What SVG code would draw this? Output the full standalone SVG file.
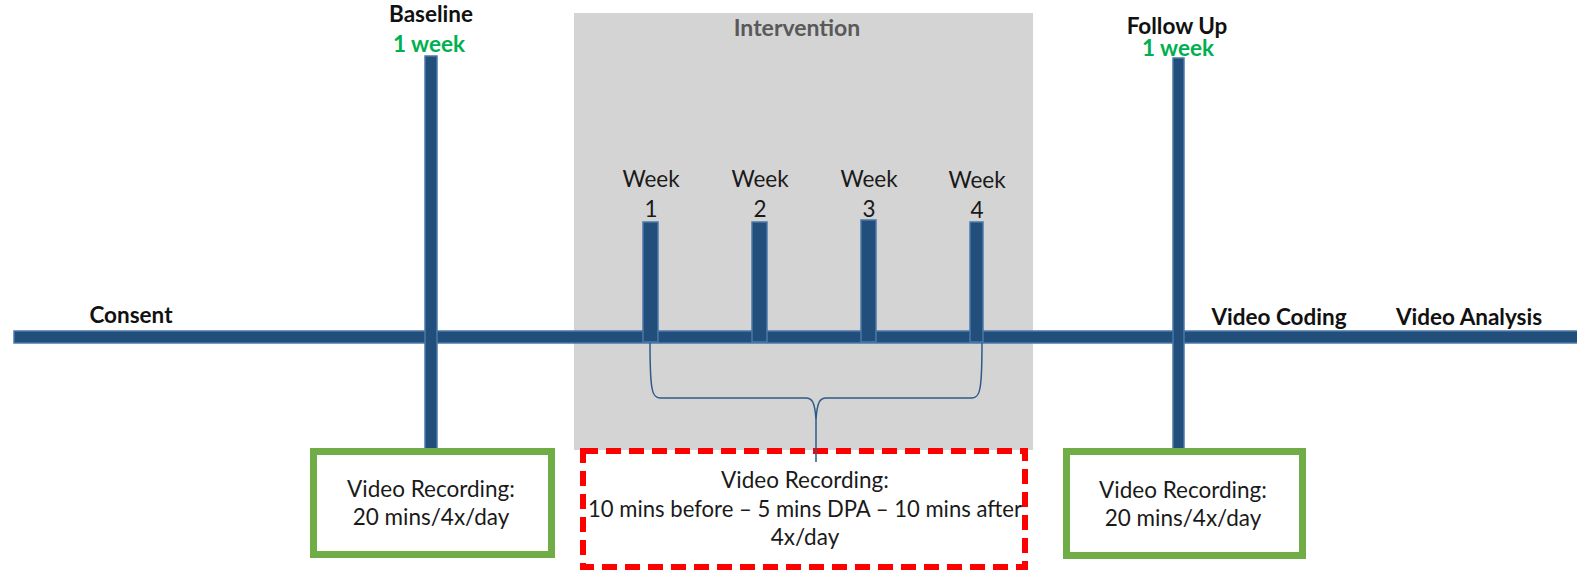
<svg xmlns="http://www.w3.org/2000/svg" width="1577" height="574" viewBox="0 0 1577 574">
<defs>
<style>
.bar{fill:#224e7b;stroke:#4a78a8;stroke-width:1.5}
.t{font-family:Lato,"Liberation Sans",sans-serif;font-size:22.5px;fill:#1a1a1a;text-anchor:middle}
.b{font-family:Lato,"Liberation Sans",sans-serif;font-size:22.5px;font-weight:bold;fill:#111;text-anchor:middle}
.g{fill:#00b050}
.gbox{fill:#fff;stroke:#70ad47;stroke-width:7}
.rbox{fill:#fff;stroke:#ff0000;stroke-width:6;stroke-dasharray:15 8}
.brace{fill:none;stroke:#2e5a88;stroke-width:1.5}
</style>
</defs>
<rect id="intervention-bg" x="574" y="13" width="459" height="437" fill="#d4d4d4"/>
<g id="intervention-label"><text class="b" x="797" y="36" style="fill:#595959;font-size:23px">Intervention</text></g>
<g id="timeline">
<rect class="bar" x="14" y="331" width="1570" height="12"/>
</g>
<g id="baseline">
<rect class="bar" x="425" y="56" width="12" height="393"/>
<text class="b" x="431" y="22">Baseline</text>
<text class="b g" x="429" y="52">1 week</text>
</g>
<g id="followup">
<rect class="bar" x="1173" y="58" width="11" height="392"/>
<text class="b" x="1177" y="34">Follow Up</text>
<text class="b g" x="1178" y="56">1 week</text>
</g>
<g id="week1">
<rect class="bar" x="643" y="222" width="15" height="120"/>
<text class="t" x="651" y="187">Week</text><text class="t" x="651" y="217">1</text>
</g>
<g id="week2">
<rect class="bar" x="752" y="222" width="15" height="120"/>
<text class="t" x="760" y="187">Week</text><text class="t" x="760" y="217">2</text>
</g>
<g id="week3">
<rect class="bar" x="861" y="220" width="15" height="122"/>
<text class="t" x="869" y="187">Week</text><text class="t" x="869" y="217">3</text>
</g>
<g id="week4">
<rect class="bar" x="970" y="222" width="13" height="120"/>
<text class="t" x="977" y="188">Week</text><text class="t" x="977" y="218">4</text>
</g>
<g id="consent"><text class="b" x="131" y="323">Consent</text></g>
<g id="video-coding"><text class="b" x="1279" y="325">Video Coding</text></g>
<g id="video-analysis"><text class="b" x="1469" y="325">Video Analysis</text></g>
<g id="box-baseline">
<rect class="gbox" x="313.5" y="451.5" width="238" height="103"/>
<text class="t" x="431" y="497">Video Recording:</text>
<text class="t" x="431" y="525">20 mins/4x/day</text>
</g>
<g id="box-intervention">
<rect class="rbox" x="583" y="451" width="442" height="116"/>
<text class="t" x="805" y="488">Video Recording:</text>
<text class="t" x="805" y="517" textLength="434" lengthAdjust="spacingAndGlyphs">10 mins before – 5 mins DPA – 10 mins after</text>
<text class="t" x="805" y="545">4x/day</text>
</g>
<g id="box-followup">
<rect class="gbox" x="1066.5" y="451.5" width="236" height="104"/>
<text class="t" x="1183" y="498">Video Recording:</text>
<text class="t" x="1183" y="526">20 mins/4x/day</text>
</g>
<g id="connectors">
<path class="brace" d="M650,343 C650,390 652,398 660,398 L806,398 C812,398 815,402 816,420 C817,402 820,398 826,398 L972,398 C980,398 982,390 982,343"/>
<line class="brace" x1="816" y1="420" x2="816" y2="462"/>
</g>
</svg>
